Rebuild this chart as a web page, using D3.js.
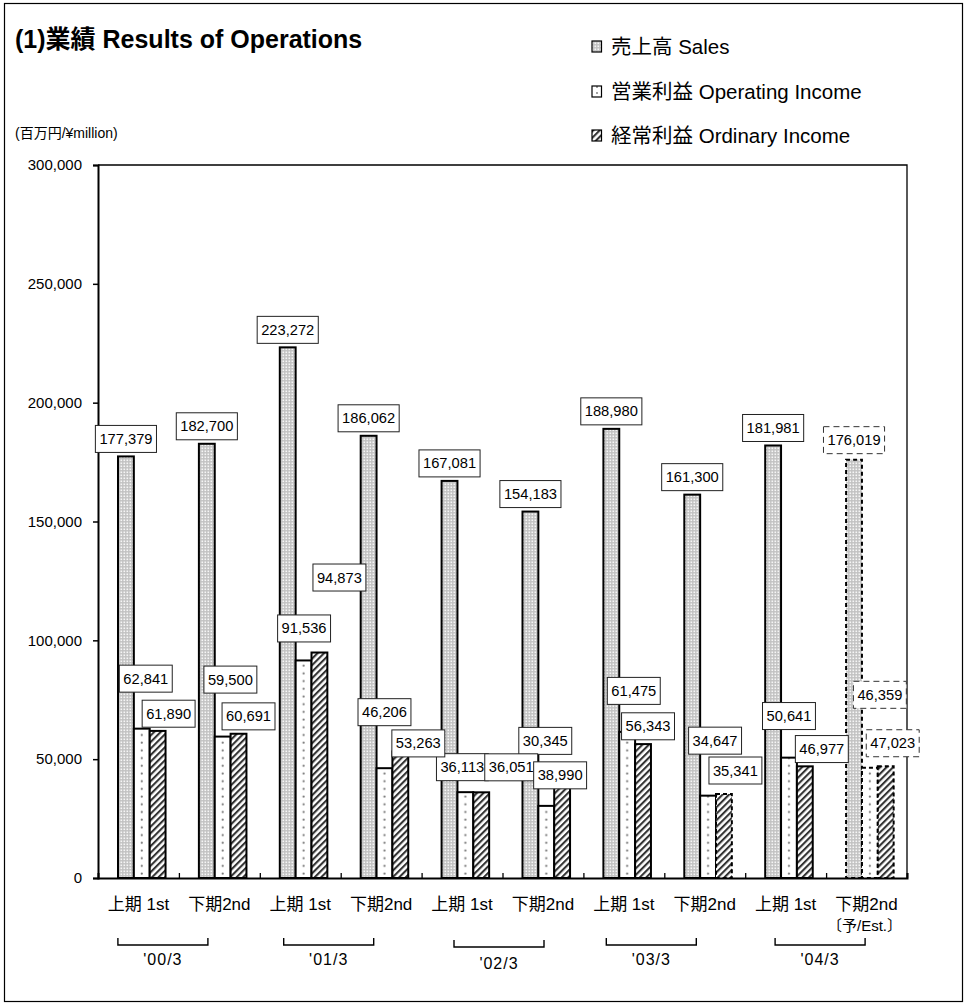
<!DOCTYPE html>
<html>
<head>
<meta charset="utf-8">
<script src="https://cdn.jsdelivr.net/npm/d3@7"></script>
<style>
  body { margin: 0; background: #fff; }
  text { font-family: "Liberation Sans", Arial, "Noto Sans CJK JP", sans-serif; fill: #000; }
</style>
</head>
<body>
<svg id="chart" width="965" height="1005"></svg>
<script>
// ---------------- data ----------------
const periods = ["上期 1st","下期2nd","上期 1st","下期2nd","上期 1st","下期2nd","上期 1st","下期2nd","上期 1st","下期2nd"];
const fiscalYears = ["'00/3","'01/3","'02/3","'03/3","'04/3"];
const sales           = [177379,182700,223272,186062,167081,154183,188980,161300,181981,176019];
const operatingIncome = [ 62841, 59500, 91536, 46206, 36113, 30345, 61475, 34647, 50641, 46359];
const ordinaryIncome  = [ 61890, 60691, 94873, 53263, 36051, 38990, 56343, 35341, 46977, 47023];
const isEstimate      = [false,false,false,false,false,false,false,false,false,true];
const yTicks = [0,50000,100000,150000,200000,250000,300000];
const seriesNames = ["売上高 Sales","営業利益 Operating Income","経常利益 Ordinary Income"];
const titleText = "(1)業績 Results of Operations";
const unitText = "(百万円/¥million)";
const estimateNote = "〔予/Est.〕";

// ---------------- layout (not data) ----------------
const plot = {left: 98, right: 907, top: 165, bottom: 878};
const barOffset = 20, barW = 15.85;
const salesLabelDy = -17.5;
// label centre offsets relative to bar centre / bar top
const opLabelOff  = [[4,-50],[7.7,-57],[0.5,-32],[0,-56],[-3,-25],[-1,-65],[6.6,-41],[7,-55],[0,-41.6],[10,-73]];
const ordLabelOff = [[11,-17.2],[10,-17.4],[20,-75],[18,-8],[30,-25],[-2,-10],[5,-17.8],[11.5,-23.5],[17,-17.3],[7,-23]];
const yearDx = [-16,-12,-3.5,-13,-6];
const yearDy = [0,0,2,0,0];
const extraDashedBars = [{series: 2, index: 7}];

const svg = d3.select("#chart");

// outer frame
svg.append("rect").attr("x",4.5).attr("y",3.5).attr("width",958).attr("height",998)
  .attr("fill","none").attr("stroke","#000").attr("stroke-width",1.2);

// ---------------- patterns ----------------
const defs = svg.append("defs");
const x = d3.scaleBand().domain(d3.range(periods.length)).range([plot.left, plot.right]).padding(0);
const y = d3.scaleLinear().domain([0, 300000]).range([plot.bottom, plot.top]);
const bw = x.bandwidth();

const pS = defs.append("pattern").attr("id","pSales").attr("patternUnits","userSpaceOnUse")
  .attr("width",3).attr("height",3);
pS.append("rect").attr("width",3).attr("height",3).attr("fill","#c2c2c2");
pS.append("rect").attr("x",0.5).attr("y",0.5).attr("width",1.6).attr("height",1.6).attr("fill","#f6f6f6");

const pO = defs.append("pattern").attr("id","pOp").attr("patternUnits","userSpaceOnUse")
  .attr("x", plot.left).attr("y", 0).attr("width", bw).attr("height", 7.7);
pO.append("rect").attr("width",bw).attr("height",7.7).attr("fill","#fff");
pO.append("circle").attr("cx", barOffset + barW*1.5).attr("cy",3.5).attr("r",1.1).attr("fill","#777");

const pOL = defs.append("pattern").attr("id","pOpLeg").attr("patternUnits","userSpaceOnUse")
  .attr("width",6).attr("height",6);
pOL.append("rect").attr("width",6).attr("height",6).attr("fill","#fff");
pOL.append("circle").attr("cx",3).attr("cy",3).attr("r",0.9).attr("fill","#777");

const pR = defs.append("pattern").attr("id","pOrd").attr("patternUnits","userSpaceOnUse")
  .attr("width",4.6).attr("height",4.6).attr("patternTransform","rotate(45)");
pR.append("rect").attr("width",4.6).attr("height",4.6).attr("fill","#fff");
pR.append("rect").attr("width",2.1).attr("height",4.6).attr("fill","#333");

const fills = ["url(#pSales)","url(#pOp)","url(#pOrd)"];
const legendFills = ["url(#pSales)","url(#pOpLeg)","url(#pOrd)"];
const seriesData = [sales, operatingIncome, ordinaryIncome];

// ---------------- plot frame ----------------
svg.append("path")
  .attr("d", `M${plot.left},${plot.top}H${plot.right}V${plot.bottom}`)
  .attr("fill","none").attr("stroke","#000").attr("stroke-width",1.3);

// ---------------- bars ----------------
const barsG = svg.append("g");
seriesData.forEach((vals, s) => {
  barsG.selectAll(null).data(vals).join("rect")
    .attr("x", (d,i) => x(i) + barOffset + s*barW)
    .attr("y", d => y(d))
    .attr("width", barW)
    .attr("height", d => y(0) - y(d))
    .attr("fill", fills[s])
    .attr("stroke","#000")
    .attr("stroke-width",2)
    .attr("stroke-dasharray", (d,i) => (isEstimate[i] || extraDashedBars.some(e => e.series===s && e.index===i)) ? "4,3" : null);
});

// ---------------- axes ----------------
const yAxis = d3.axisLeft(y).tickValues(yTicks).tickSize(5).tickPadding(11)
  .tickFormat(d3.format(","));
const yG = svg.append("g").attr("transform",`translate(${plot.left},0)`).call(yAxis);
yG.select(".domain").attr("stroke","#000").attr("stroke-width",2);
yG.selectAll(".tick line").attr("stroke","#000").attr("stroke-width",1.5);
yG.selectAll(".tick text").attr("font-size",15).attr("font-family","Liberation Sans, Arial, sans-serif").attr("fill","#000");

const xb = d3.scaleLinear().domain([0, periods.length]).range([plot.left, plot.right]);
const xAxis = d3.axisBottom(xb).tickValues(d3.range(1, periods.length + 1)).tickSize(-5).tickFormat("");
const xG = svg.append("g").attr("transform",`translate(0,${plot.bottom})`).call(xAxis);
xG.select(".domain").attr("stroke","#000").attr("stroke-width",2);
xG.selectAll(".tick line").attr("stroke","#000").attr("stroke-width",1.3);

// category labels
svg.append("g").selectAll("text").data(periods).join("text")
  .attr("x",(d,i) => x(i) + bw/2)
  .attr("y", 904)
  .attr("text-anchor","middle")
  .attr("dominant-baseline","central")
  .attr("font-size",17)
  .text(d => d);
svg.append("text")
  .attr("x", x(periods.length - 1) + bw/2 - 2)
  .attr("y", 925)
  .attr("text-anchor","middle")
  .attr("dominant-baseline","central")
  .attr("font-size",15)
  .text(estimateNote);

// fiscal year brackets
const yrG = svg.append("g");
fiscalYears.forEach((fy, k) => {
  const cx = x(2*k + 1) + yearDx[k];
  const by = 945 + yearDy[k];
  yrG.append("path")
    .attr("d", `M${cx-45},${by-7}V${by}H${cx+45}V${by-7}`)
    .attr("fill","none").attr("stroke","#000").attr("stroke-width",1.4);
  yrG.append("text")
    .attr("x", cx).attr("y", by + 14 + yearDy[k])
    .attr("text-anchor","middle").attr("dominant-baseline","central")
    .attr("font-size",16).attr("letter-spacing",1).text(fy);
});

// ---------------- value labels ----------------
const fmt = d3.format(",");
const labG = svg.append("g");
function addLabel(cx, cy, value, dashed) {
  const g = labG.append("g");
  const t = g.append("text").attr("x",cx).attr("y",cy)
    .attr("text-anchor","middle").attr("dominant-baseline","central")
    .attr("font-size",14.7).text(fmt(value));
  const w = t.node().getComputedTextLength() + 8;
  g.insert("rect","text").attr("x", cx - w/2).attr("y", cy - 13.5)
    .attr("width", w).attr("height", 27)
    .attr("fill","#fff")
    .attr("stroke", dashed ? "#333" : "#222")
    .attr("stroke-width",1)
    .attr("stroke-dasharray", dashed ? "6,4" : null);
}
sales.forEach((v,i) => {
  addLabel(x(i) + barOffset + barW*0.5, y(v) + salesLabelDy - (isEstimate[i] ? 2 : 0), v, isEstimate[i]);
});
operatingIncome.forEach((v,i) => {
  addLabel(x(i) + barOffset + barW*1.5 + opLabelOff[i][0], y(v) + opLabelOff[i][1], v, isEstimate[i]);
});
ordinaryIncome.forEach((v,i) => {
  addLabel(x(i) + barOffset + barW*2.5 + ordLabelOff[i][0], y(v) + ordLabelOff[i][1], v, isEstimate[i]);
});

// ---------------- title, unit, legend ----------------
svg.append("text").attr("x",15).attr("y",38.5).attr("dominant-baseline","central")
  .attr("font-size",25).attr("font-weight","bold").text(titleText);
svg.append("text").attr("x",15).attr("y",133).attr("dominant-baseline","central")
  .attr("font-size",14).text(unitText);

const legG = svg.append("g");
const legY = [46.5, 91.5, 135.5];
seriesNames.forEach((name, s) => {
  legG.append("rect").attr("x",592).attr("y",legY[s]-5.5).attr("width",9.5).attr("height",11)
    .attr("fill",legendFills[s]).attr("stroke","#000").attr("stroke-width",1.2);
  legG.append("text").attr("x",611).attr("y",legY[s]).attr("dominant-baseline","central")
    .attr("font-size",20.5).text(name);
});
</script>
</body>
</html>
